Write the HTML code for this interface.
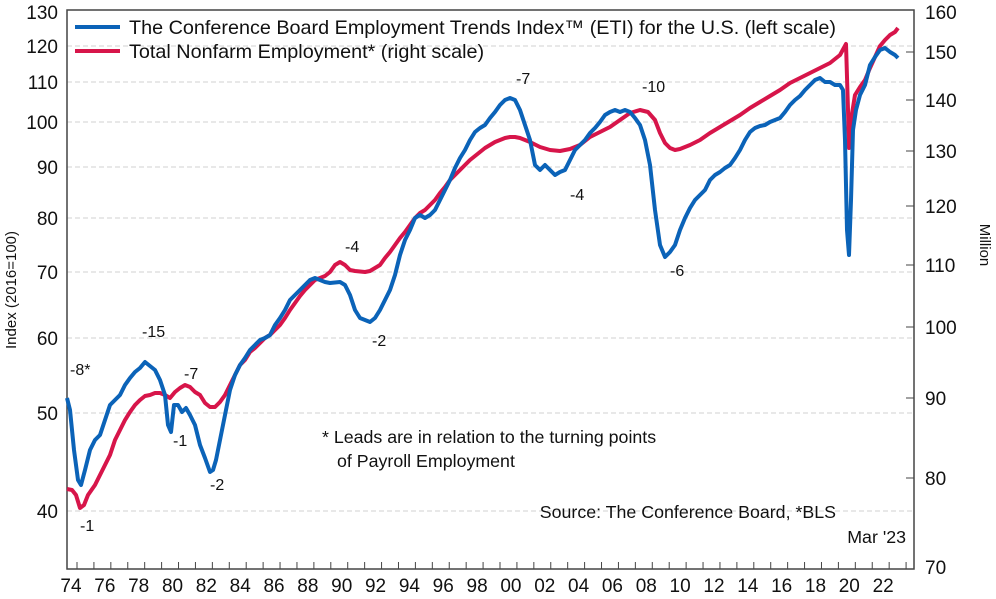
<!DOCTYPE html>
<html><head><meta charset="utf-8"><style>
html,body{margin:0;padding:0;background:#fff;}
svg{display:block;font-family:"Liberation Sans",sans-serif;}
</style></head><body>
<svg width="996" height="599" viewBox="0 0 996 599" xmlns="http://www.w3.org/2000/svg">
<rect width="996" height="599" fill="#fff"/>
<g stroke="#d0d0d0" stroke-dasharray="5,3" stroke-width="1">
<line x1="67" x2="914" y1="46" y2="46"/><line x1="67" x2="914" y1="82" y2="82"/>
<line x1="67" x2="914" y1="122" y2="122"/><line x1="67" x2="914" y1="167" y2="167"/>
<line x1="67" x2="914" y1="218" y2="218"/><line x1="67" x2="914" y1="272" y2="272"/>
<line x1="67" x2="914" y1="338" y2="338"/><line x1="67" x2="914" y1="413" y2="413"/>
<line x1="67" x2="914" y1="511" y2="511"/>
</g>
<rect x="67" y="10" width="847" height="559" fill="none" stroke="#444" stroke-width="1.5"/>
<g stroke="#444" stroke-width="1" id="ticks"></g>
<g font-size="19" fill="#111" text-anchor="end">
<text x="58" y="19">130</text><text x="58" y="53">120</text><text x="58" y="89">110</text>
<text x="58" y="129">100</text><text x="58" y="174">90</text><text x="58" y="225">80</text>
<text x="58" y="279">70</text><text x="58" y="345">60</text><text x="58" y="420">50</text>
<text x="58" y="518">40</text>
</g>
<g font-size="19" fill="#111" text-anchor="start">
<text x="925" y="19">160</text><text x="925" y="59">150</text><text x="925" y="107">140</text>
<text x="925" y="158">130</text><text x="925" y="213">120</text><text x="925" y="272">110</text>
<text x="925" y="334">100</text><text x="925" y="405">90</text><text x="925" y="485">80</text>
<text x="925" y="574">70</text>
</g>
<g font-size="19" fill="#111" text-anchor="middle" id="xl"></g>
<text transform="translate(16,290) rotate(-90)" font-size="15" text-anchor="middle" fill="#111">Index (2016=100)</text>
<text transform="translate(980,245) rotate(90)" font-size="15" text-anchor="middle" fill="#111">Million</text>
<polyline fill="none" stroke="#d7154a" stroke-width="4" stroke-linejoin="round" points="67,489 72,490 76,495 80,508 84,505 88,495 95,485 100,475 105,465 110,455 115,440 120,430 125,420 130,412 135,405 140,400 145,396 150,395 155,393 160,393 165,395 170,398 175,392 180,388 185,385 190,387 195,392 200,395 205,403 210,407 215,407 220,402 225,395 230,385 235,375 240,365 245,360 250,352 255,348 260,343 265,338 270,335 275,330 280,325 285,318 290,310 295,303 300,296 305,290 310,285 315,280 320,278 325,276 330,272 335,265 340,262 345,265 350,270 355,271 365,272 370,271 375,268 380,265 385,258 390,252 395,245 400,238 405,232 410,225 415,218 420,213 425,210 430,205 435,200 440,193 445,187 450,180 455,175 460,170 465,165 470,160 475,156 480,152 485,148 490,145 495,142 500,140 505,138 510,137 515,137 520,138 525,140 530,142 540,147 550,150 560,151 570,149 580,145 590,137 600,132 610,127 620,120 630,113 640,110 648,112 655,120 660,133 665,143 670,148 675,150 680,149 690,145 700,140 710,133 720,127 730,121 740,115 750,108 760,102 770,96 780,90 790,83 800,78 810,73 820,68 830,63 840,55 846,44 848,110 849,148 851,120 855,95 860,87 865,80 870,68 875,57 880,46 885,40 890,35 895,32 898,28"/>
<polyline fill="none" stroke="#0b63b8" stroke-width="4" stroke-linejoin="round" points="67,398 70,410 74,450 78,480 81,485 85,470 90,450 95,440 100,435 105,420 110,405 115,400 120,395 125,385 130,378 135,372 140,368 145,362 150,366 155,370 160,380 165,395 168,425 171,432 174,405 178,405 182,412 186,408 190,415 195,425 200,445 205,458 210,472 213,470 216,460 220,440 225,415 230,390 235,375 240,365 245,358 250,350 255,345 260,340 265,338 270,335 275,325 280,318 285,310 290,300 295,295 300,290 305,285 310,280 315,278 320,280 325,282 330,283 340,282 345,285 350,295 355,310 360,318 365,320 370,322 375,318 380,310 385,300 390,290 395,275 400,255 405,240 410,230 415,218 420,215 425,218 430,215 435,210 440,200 445,190 450,180 455,168 460,158 465,150 470,140 475,132 480,128 485,125 490,118 495,112 500,105 505,100 510,98 515,100 520,110 525,125 530,140 535,165 540,170 545,165 550,170 555,175 560,172 565,170 570,160 575,150 580,145 585,140 590,133 595,128 600,122 605,115 610,112 615,110 620,112 625,110 630,112 635,118 640,125 645,140 650,165 655,210 660,245 665,257 670,252 675,245 680,230 685,218 690,208 695,200 700,195 705,190 710,180 715,175 720,172 725,168 730,165 735,158 740,150 745,140 750,132 755,128 760,126 765,125 770,122 775,120 780,118 785,112 790,105 795,100 800,96 805,90 810,85 815,80 820,78 825,82 830,82 835,85 840,85 843,90 845,140 847,230 849,255 851,200 853,130 856,110 860,95 865,85 870,65 875,57 880,50 885,48 890,52 895,55 898,58"/>
<g font-size="16" fill="#111">
<text x="70" y="375">-8*</text><text x="80" y="531">-1</text><text x="142" y="337">-15</text>
<text x="173" y="446">-1</text><text x="184" y="379">-7</text><text x="210" y="490">-2</text>
<text x="345" y="252">-4</text><text x="372" y="346">-2</text><text x="516" y="84">-7</text>
<text x="570" y="200">-4</text><text x="642" y="92">-10</text><text x="670" y="276">-6</text>
</g>
<g font-size="17.8" fill="#111">
<text x="322" y="443">* Leads are in relation to the turning points</text>
<text x="337" y="467">of Payroll Employment</text>
<text x="836" y="518" text-anchor="end">Source: The Conference Board, *BLS</text>
<text x="906" y="543" text-anchor="end">Mar '23</text>
</g>
<line x1="75" x2="120" y1="27" y2="27" stroke="#0b63b8" stroke-width="4"/>
<line x1="75" x2="120" y1="51" y2="51" stroke="#d7154a" stroke-width="4"/>
<g font-size="19.8" fill="#111">
<text x="129" y="34">The Conference Board Employment Trends Index™ (ETI) for the U.S. (left scale)</text>
<text x="129" y="58">Total Nonfarm Employment* (right scale)</text>
</g>
<script>
var t=document.getElementById('ticks'),xl=document.getElementById('xl'),ns='http://www.w3.org/2000/svg';
for(var i=0;i<50;i++){var x=77+i*16.92;if(x>912)break;var l=document.createElementNS(ns,'line');l.setAttribute('x1',x);l.setAttribute('x2',x);l.setAttribute('y1',562);l.setAttribute('y2',569);t.appendChild(l);
if(i%2==0){var s=document.createElementNS(ns,'text');s.setAttribute('x',x-6);s.setAttribute('y',592);s.textContent=String((74+i)%100).padStart(2,'0');xl.appendChild(s);}}
[52,100,151,206,265,327,398,478].forEach(function(y){var l=document.createElementNS(ns,'line');l.setAttribute('x1',906);l.setAttribute('x2',914);l.setAttribute('y1',y);l.setAttribute('y2',y);t.appendChild(l);});
</script>
</svg>
</body></html>
